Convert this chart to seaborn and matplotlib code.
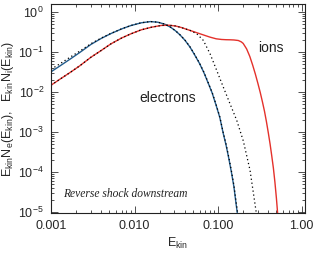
import matplotlib
matplotlib.use("Agg")
import matplotlib.pyplot as plt
import seaborn as sns
import pandas as pd
import numpy as np
from matplotlib.ticker import LogLocator, NullFormatter, FixedLocator, FixedFormatter

# ---- data ----
e_energy = [0.001, 0.0013, 0.0017, 0.0022, 0.003, 0.004, 0.0052, 0.007, 0.009, 0.012,
            0.0155, 0.019, 0.023, 0.027, 0.031, 0.035, 0.040, 0.046, 0.052, 0.060,
            0.068, 0.076, 0.085, 0.095, 0.105, 0.115, 0.125, 0.135, 0.145, 0.155,
            0.165, 0.175]
e_values = [0.032, 0.046, 0.067, 0.097, 0.155, 0.22, 0.29, 0.38, 0.46, 0.54,
            0.58, 0.56, 0.50, 0.42, 0.34, 0.27, 0.20, 0.135, 0.088, 0.052,
            0.030, 0.017, 0.0095, 0.0046, 0.0023, 9.5e-4, 4.6e-4, 2.1e-4, 9.5e-5, 4.2e-5,
            1.5e-5, 6e-6]
e_fit_values = [0.037, 0.052, 0.075, 0.105, 0.162, 0.225, 0.293, 0.382, 0.462, 0.542,
                0.582, 0.562, 0.502, 0.422, 0.342, 0.272, 0.202, 0.137, 0.090, 0.053,
                0.031, 0.0175, 0.0098, 0.0048, 0.0024, 1.0e-3, 4.9e-4, 2.25e-4, 1.03e-4, 4.6e-5,
                1.7e-5, 7e-6]

i_energy = [0.001, 0.0013, 0.0017, 0.0022, 0.003, 0.004, 0.0052, 0.007, 0.009, 0.012,
            0.016, 0.021, 0.026, 0.031, 0.036, 0.046, 0.060, 0.080, 0.095, 0.110,
            0.125, 0.140, 0.155, 0.175, 0.19, 0.20, 0.22, 0.24, 0.26, 0.28,
            0.30, 0.32, 0.34, 0.36, 0.38, 0.40, 0.42, 0.44, 0.46, 0.48, 0.50, 0.52]
i_values = [0.0148, 0.0214, 0.031, 0.045, 0.074, 0.11, 0.16, 0.225, 0.285, 0.36,
            0.42, 0.465, 0.47, 0.45, 0.415, 0.35, 0.29, 0.237, 0.215, 0.207,
            0.204, 0.203, 0.201, 0.195, 0.18, 0.165, 0.12, 0.078, 0.047, 0.028,
            0.0165, 0.0098, 0.0057, 0.0033, 0.0018, 9.5e-4, 5e-4, 2.5e-4, 1.25e-4, 5.5e-5, 2.2e-5, 8e-6]

i_fit_energy = [0.001, 0.0013, 0.0017, 0.0022, 0.003, 0.004, 0.0052, 0.007, 0.009, 0.012,
                0.016, 0.021, 0.026, 0.031, 0.036, 0.046, 0.0556, 0.0667, 0.0802, 0.0964,
                0.1156, 0.139, 0.1675, 0.201, 0.2416, 0.2852, 0.30]
i_fit_values = [0.0148, 0.0214, 0.031, 0.045, 0.074, 0.11, 0.16, 0.225, 0.285, 0.36,
                0.42, 0.465, 0.47, 0.45, 0.415, 0.35, 0.288, 0.196, 0.091, 0.0348,
                0.0133, 0.0051, 0.00195, 5.9e-4, 1.1e-4, 1.04e-5, 4e-6]

x_ticks = [0.001, 0.01, 0.1, 1.0]
x_tick_labels = ["0.001", "0.010", "0.100", "1.00"]

sns.set_style("ticks")
plt.rcParams["font.family"] = ["Liberation Sans", "DejaVu Sans"]
plt.rcParams["mathtext.default"] = "regular"
plt.rcParams["mathtext.fontset"] = "custom"
plt.rcParams["mathtext.rm"] = "Liberation Sans"
plt.rcParams["mathtext.it"] = "Liberation Sans"

fig = plt.figure(figsize=(3.14, 2.56), dpi=100)
ax = fig.add_axes([51/314, 1-213/256, (305-51)/314, (213-4)/256])

blue = "#215b8c"
red = "#e4312b"

df_e = pd.DataFrame({"E": e_energy, "v": e_values})
df_ef = pd.DataFrame({"E": e_energy, "v": e_fit_values})
df_i = pd.DataFrame({"E": i_energy, "v": i_values})
df_if = pd.DataFrame({"E": i_fit_energy, "v": i_fit_values})

sns.lineplot(data=df_e, x="E", y="v", ax=ax, color=blue, lw=1.0, estimator=None, sort=False)
sns.lineplot(data=df_i, x="E", y="v", ax=ax, color=red, lw=1.0, estimator=None, sort=False)
sns.lineplot(data=df_ef, x="E", y="v", ax=ax, color="black", lw=0.9, estimator=None, sort=False,
             linestyle=(0, (1, 2.2)))
sns.lineplot(data=df_if, x="E", y="v", ax=ax, color="black", lw=0.9, estimator=None, sort=False,
             linestyle=(0, (1, 2.2)))

ax.set_xscale("log")
ax.set_yscale("log")
ax.set_xlim(0.001, 1.1)
ax.set_ylim(10**-5.03, 1.6)

ax.xaxis.set_major_locator(FixedLocator(x_ticks))
ax.xaxis.set_major_formatter(FixedFormatter(x_tick_labels))
ax.xaxis.set_minor_locator(LogLocator(base=10, subs=np.arange(2, 10), numticks=20))
ax.xaxis.set_minor_formatter(NullFormatter())
ax.yaxis.set_major_locator(LogLocator(base=10, numticks=20))
ax.yaxis.set_minor_locator(LogLocator(base=10, subs=np.arange(2, 10), numticks=20))
ax.yaxis.set_minor_formatter(NullFormatter())

ax.tick_params(which="both", direction="in", top=True, right=True, color="#333333", width=0.6)
ax.tick_params(which="major", length=5, labelsize=9, pad=5)
ax.tick_params(which="minor", length=2.5)
for s in ax.spines.values():
    s.set_linewidth(0.8)
    s.set_color("#222222")

ax.set_xlabel(r"$E_{kin}$", fontsize=9, labelpad=3)
ax.set_ylabel(r"$E_{kin}N_e(E_{kin}),\ \ E_{kin}N_i(E_{kin})$", fontsize=9, labelpad=2)

ax.text(0.301, 0.124, "ions", fontsize=10, ha="left", va="center", color="#222222")
ax.text(0.0113, 0.0070, "electrons", fontsize=10, ha="left", va="center", color="#222222")
ax.text(0.047, 0.091, "Reverse shock downstream", transform=ax.transAxes, fontsize=8.3,
        family=["Liberation Serif"], style="italic", ha="left", va="center", color="#222222")

fig.savefig("out.png", dpi=100)
